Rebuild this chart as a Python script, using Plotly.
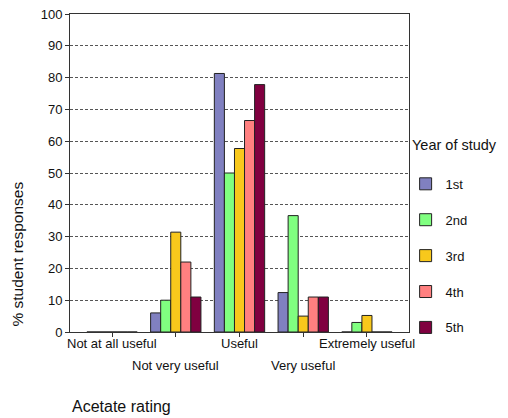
import plotly.graph_objects as go

categories = ["Not at all useful", "Not very useful", "Useful", "Very useful", "Extremely useful"]
years = ["1st", "2nd", "3rd", "4th", "5th"]
values = {
    "1st": [0, 6.0, 81.3, 12.4, 0],
    "2nd": [0, 10.0, 50.0, 36.6, 3.0],
    "3rd": [0, 31.4, 57.7, 5.0, 5.2],
    "4th": [0, 22.0, 66.5, 11.0, 0],
    "5th": [0, 11.0, 77.8, 11.0, 0],
}
colors = ["#8080C0", "#80FF80", "#F8C81C", "#FF8080", "#800040"]
y_ticks = list(range(0, 101, 10))

FONT = "Liberation Sans, Arial, sans-serif"
xpos = list(range(len(categories)))

fig = go.Figure()
for i, yr in enumerate(years):
    fig.add_trace(go.Bar(
        x=xpos, y=values[yr], name=yr, legendgroup=yr,
        marker=dict(color=colors[i], line=dict(color="#222222", width=1)),
    ))

# category labels (alternating rows, as in the original)
for i, c in enumerate(categories):
    fig.add_annotation(x=i, xref="x", y=-0.037 if i % 2 == 0 else -0.106, yref="paper",
                       text=c, showarrow=False, yanchor="middle", xanchor="center",
                       font=dict(family=FONT, size=13, color="#111111"))

fig.add_annotation(x=0, xref="paper", y=-0.235, yref="paper", text="Acetate rating",
                   showarrow=False, xanchor="left", yanchor="middle",
                   font=dict(family=FONT, size=16, color="#111111"))
fig.add_annotation(x=-0.155, xref="paper", y=0.245, yref="paper", text="% student responses",
                   textangle=-90, showarrow=False, xanchor="center", yanchor="middle",
                   font=dict(family=FONT, size=15.5, color="#111111"))
fig.add_annotation(x=1.004, xref="paper", y=0.588, yref="paper", text="Year of study",
                   showarrow=False, xanchor="left", yanchor="middle",
                   font=dict(family=FONT, size=14.5, color="#111111"))

fig.update_layout(
    width=500, height=410,
    margin=dict(l=62, r=99, t=6, b=86, autoexpand=False),
    paper_bgcolor="white", plot_bgcolor="white",
    barmode="group", bargap=0.21, bargroupgap=0,
    font=dict(family=FONT, size=13, color="#111111"),
    legend=dict(
        x=0.99, xanchor="left", y=0.513, yanchor="top",
        tracegroupgap=16, itemwidth=30,
        font=dict(family=FONT, size=13, color="#111111"),
        bgcolor="rgba(0,0,0,0)",
    ),
    xaxis=dict(
        range=[-0.66, 4.66], tickvals=xpos, showticklabels=False,
        ticks="outside", ticklen=4, tickcolor="#333333",
        showline=True, linecolor="#333333", linewidth=1, mirror=True,
        showgrid=False, zeroline=False,
    ),
    yaxis=dict(
        range=[0, 100], tickvals=y_ticks, ticks="outside", ticklen=4, tickcolor="#333333",
        ticklabeloverflow="allow",
        showline=True, linecolor="#333333", linewidth=1, mirror=True,
        showgrid=True, gridcolor="#555555", griddash="3px,2px", gridwidth=1,
        zeroline=False, tickfont=dict(family=FONT, size=13, color="#111111"),
    ),
)

fig.write_html("out.html")
